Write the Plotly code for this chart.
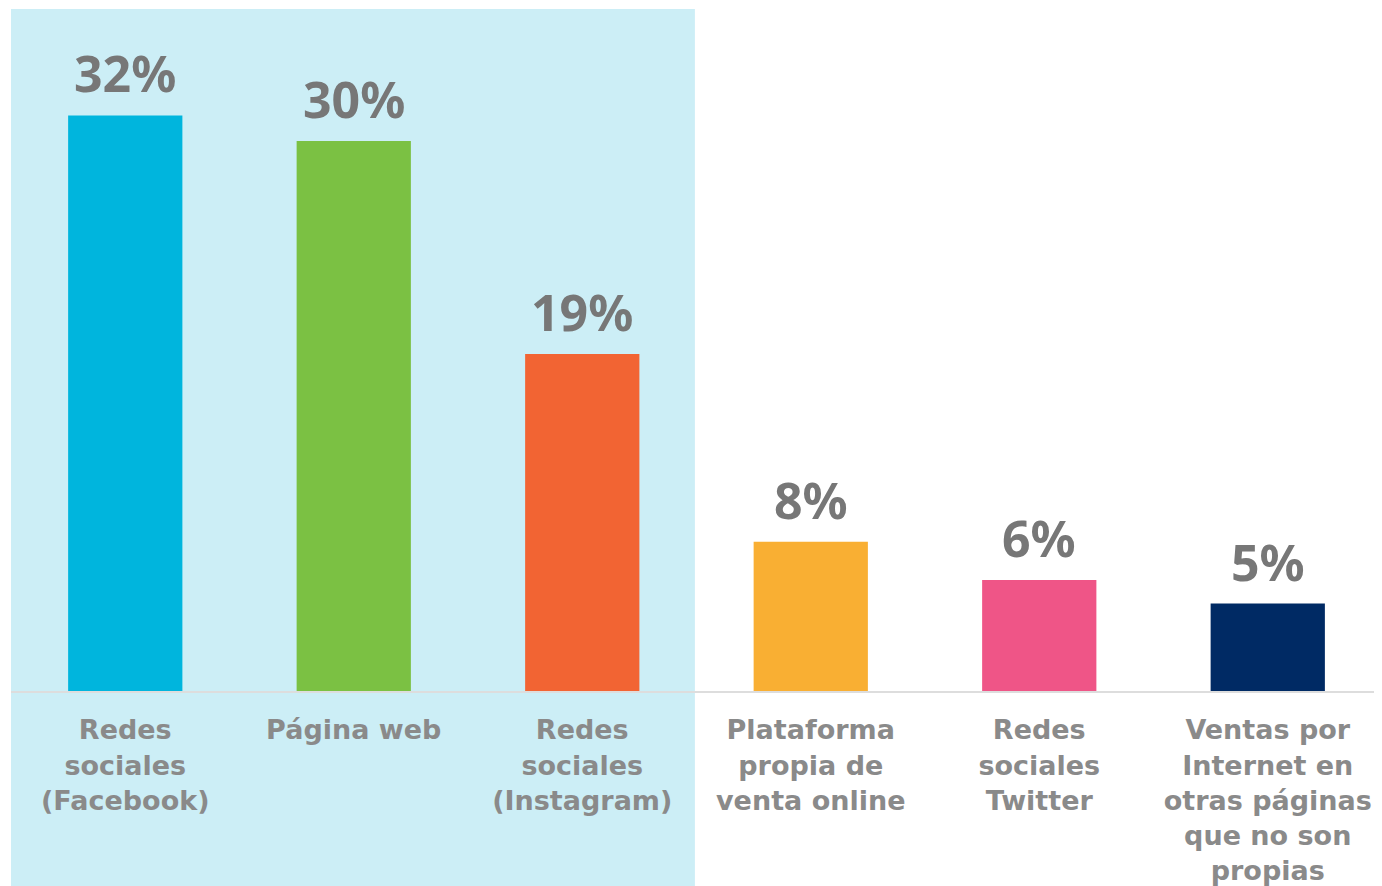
"""Bar chart: canales de venta online."""

import plotly.graph_objects as go

categories = [
    "Redes<br>sociales<br>(Facebook)",
    "Página web",
    "Redes<br>sociales<br>(Instagram)",
    "Plataforma<br>propia de<br>venta online",
    "Redes<br>sociales<br>Twitter",
    "Ventas por<br>Internet en<br>otras páginas<br>que no son<br>propias",
]
values = [31.6, 30.2, 18.5, 8.2, 6.1, 4.8]
labels = ["32%", "30%", "19%", "8%", "6%", "5%"]
colors = ["#00B5DD", "#7BC143", "#F26433", "#F9AF33", "#EF5587", "#002A64"]

FONT = "Noto Sans"
TICK_FONT = "DejaVu Sans"

fig = go.Figure()
fig.add_trace(
    go.Bar(
        x=list(range(len(categories))),
        y=values,
        marker_color=colors,
        marker_line_width=0,
        hoverinfo="skip",
    )
)

# value labels above each bar
for i, (v, lab) in enumerate(zip(values, labels)):
    fig.add_annotation(
        x=i, y=v, text=f"<b>{lab}</b>", showarrow=False,
        yanchor="bottom", yshift=6,
        font=dict(family=FONT, size=50, color="#777777"),
    )

# highlighted block behind the first three categories
fig.add_shape(
    type="rect", xref="x", yref="paper",
    x0=-0.517, x1=2.493, y0=-0.3, y1=1.0,
    fillcolor="#CCEEF6", line_width=0, layer="below",
)

# the page body adds an 8px offset, so the figure is sized to fit the window
fig.update_layout(
    width=1374,
    height=878,
    margin=dict(l=3, r=0, t=1, b=193),
    paper_bgcolor="white",
    plot_bgcolor="rgba(0,0,0,0)",
    bargap=0.5,
    showlegend=False,
    font=dict(family=FONT),
)
fig.update_xaxes(
    tickmode="array",
    tickvals=list(range(len(categories))),
    ticktext=[f"<b>{c}</b>" for c in categories],
    tickfont=dict(family=TICK_FONT, size=27, color="#8A8A8A"),
    showline=True, linecolor="#DDDDDD", linewidth=2,
    showgrid=False, zeroline=False, ticks="",
    ticklabelstandoff=14,
    range=[-0.5, 5.5],
)
fig.update_yaxes(range=[0, 37.44], visible=False)

fig.write_html("out.html")
